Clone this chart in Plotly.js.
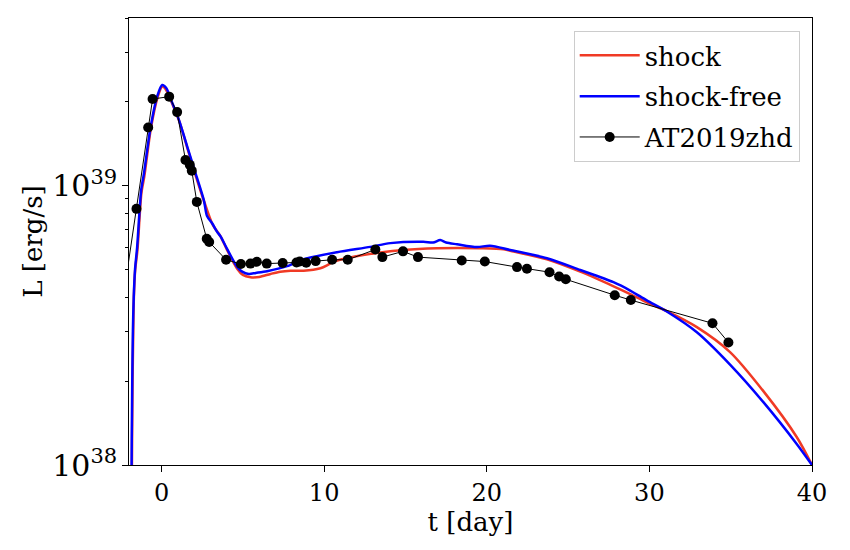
<!DOCTYPE html>
<html>
<head>
<meta charset="utf-8">
<script src="https://cdn.plot.ly/plotly-3.0.1.min.js"></script>
<style>html,body{margin:0;padding:0;background:#fff;}#chart{width:850px;height:550px;}</style>
</head>
<body>
<div id="chart"></div>
<script>
// shock model
const shockT = [-1.86, -1.82, -1.78, -1.74, -1.7, -1.62, -1.48, -1.24, -1.06, -0.66, -0.25, 0.05, 0.3, 0.57, 1.1, 1.6, 2.1, 2.62, 3.13, 3.63, 4.03, 4.65, 5.0, 5.47, 6.0, 6.7, 7.3, 7.93, 8.74, 9.77, 10.2, 10.59, 11.82, 13.46, 14.89, 16.94, 18.2, 19.6, 21.03, 21.65, 23.7, 25.75, 27.8, 28.82, 29.84, 31.07, 32.92, 34.96, 37.01, 39.06, 40];
const shockL = [1e37, 1.0e38, 2.0e38, 3.0e38, 4.0e38, 5.0e38, 5.9e38, 9.4e38, 1.08e39, 1.6e39, 2.07e39, 2.27e39, 2.2e39, 2.03e39, 1.70e39, 1.36e39, 1.09e39, 8.8e38, 7.3e38, 6.6e38, 5.9e38, 5.05e38, 4.8e38, 4.71e38, 4.72e38, 4.84e38, 4.93e38, 4.97e38, 4.97e38, 5.07e38, 5.2e38, 5.36e38, 5.58e38, 5.78e38, 5.90e38, 5.98e38, 5.99e38, 5.98e38, 5.93e38, 5.82e38, 5.46e38, 4.93e38, 4.37e38, 4.10e38, 3.83e38, 3.56e38, 3.12e38, 2.54e38, 1.84e38, 1.26e38, 1.0e38];

// shock-free model
const freeT = [-1.86, -1.84, -1.8, -1.76, -1.71, -1.63, -1.5, -1.25, -1.09, -0.68, -0.27, 0.04, 0.3, 0.55, 1.07, 1.58, 2.09, 2.6, 2.8, 3.11, 3.42, 3.63, 4.03, 4.65, 4.96, 5.37, 5.8, 6.49, 7.72, 8.74, 10.79, 12.84, 14.07, 16.1, 16.7, 17.14, 17.5, 18.17, 19.4, 20.2, 21.44, 23.7, 25.75, 27.79, 28.82, 29.84, 31.07, 32.92, 34.96, 37.01, 39.06, 40];
const freeL = [1e37, 1.0e38, 2.0e38, 3.02e38, 3.98e38, 5.01e38, 6.03e38, 9.68e38, 1.10e39, 1.614e39, 2.09e39, 2.30e39, 2.24e39, 2.06e39, 1.726e39, 1.384e39, 1.112e39, 8.91e38, 7.8e38, 7.35e38, 6.85e38, 6.6e38, 5.95e38, 5.13e38, 4.93e38, 4.84e38, 4.88e38, 4.95e38, 5.16e38, 5.46e38, 5.79e38, 6.05e38, 6.24e38, 6.31e38, 6.27e38, 6.40e38, 6.27e38, 6.18e38, 6.04e38, 6.11e38, 5.90e38, 5.51e38, 5.00e38, 4.52e38, 4.22e38, 3.89e38, 3.55e38, 2.99e38, 2.29e38, 1.68e38, 1.19e38, 1.0e38];

// AT2019zhd observations
const obsT = [-2.6, -1.54, -0.82, -0.55, 0.47, 0.96, 1.47, 1.74, 1.86, 2.17, 2.78, 2.93, 3.97, 4.88, 5.47, 5.86, 6.47, 7.45, 8.3, 8.5, 8.9, 9.48, 10.49, 11.45, 13.15, 13.58, 14.85, 15.77, 18.46, 19.88, 21.86, 22.47, 23.86, 24.45, 24.86, 27.87, 28.86, 33.88, 34.86];
const obsL = [3.18e38, 8.28e38, 1.62e39, 2.05e39, 2.09e39, 1.84e39, 1.24e39, 1.19e39, 1.135e39, 8.77e38, 6.47e38, 6.30e38, 5.44e38, 5.25e38, 5.27e38, 5.35e38, 5.27e38, 5.30e38, 5.32e38, 5.36e38, 5.31e38, 5.38e38, 5.44e38, 5.44e38, 5.92e38, 5.56e38, 5.83e38, 5.56e38, 5.41e38, 5.36e38, 5.12e38, 5.05e38, 4.91e38, 4.74e38, 4.63e38, 4.06e38, 3.90e38, 3.22e38, 2.75e38];

const xTicks = [0, 10, 20, 30, 40];
const seriesNames = ['shock', 'shock-free', 'AT2019zhd'];

const font = 'DejaVu Serif, serif';

const traces = [
  {x: shockT, y: shockL, name: seriesNames[0], mode: 'lines', legendgroup: 'a',
   line: {color: '#f03a25', width: 2.5, shape: 'spline', smoothing: 0.8}},
  {x: freeT, y: freeL, name: seriesNames[1], mode: 'lines', legendgroup: 'b',
   line: {color: '#0000ff', width: 2.5, shape: 'spline', smoothing: 0.8}},
  {x: obsT, y: obsL, name: seriesNames[2], mode: 'lines+markers', legendgroup: 'c',
   line: {color: '#000000', width: 1}, marker: {color: '#000000', size: 10}}
];

const layout = {
  width: 850, height: 550,
  margin: {l: 129, r: 38, t: 18, b: 85},
  paper_bgcolor: '#ffffff', plot_bgcolor: '#ffffff',
  font: {family: font, size: 24, color: '#000'},
  showlegend: true,
  legend: {x: 0.982, y: 0.971, xanchor: 'right', yanchor: 'top',
           bordercolor: '#cccccc', borderwidth: 1, bgcolor: 'rgba(255,255,255,0.8)',
           font: {family: font, size: 26}, traceorder: 'grouped', tracegroupgap: 4,
           itemwidth: 60},
  xaxis: {
    range: [-2, 40], tickvals: xTicks, ticktext: xTicks.map(String),
    ticks: 'outside', ticklen: 6, tickcolor: '#000', showgrid: false, zeroline: false,
    showline: true, linecolor: '#000', linewidth: 1, mirror: true,
    tickfont: {family: font, size: 24},
    title: {text: 't [day]', font: {family: font, size: 26}, standoff: 2}
  },
  yaxis: {
    type: 'log', range: [38, Math.log10(4e39)], dtick: 1, exponentformat: 'power',
    ticks: 'outside', ticklen: 6, tickcolor: '#000', showgrid: false, zeroline: false,
    showline: true, linecolor: '#000', linewidth: 1, mirror: true,
    tickfont: {family: font, size: 24},
    minor: {ticks: 'outside', ticklen: 3.5, tickcolor: '#000', showgrid: false, dtick: 'D1'},
    title: {text: 'L [erg/s]', font: {family: font, size: 26}, standoff: 2}
  }
};

Plotly.newPlot('chart', traces, layout, {displayModeBar: false, staticPlot: true});
</script>
</body>
</html>
